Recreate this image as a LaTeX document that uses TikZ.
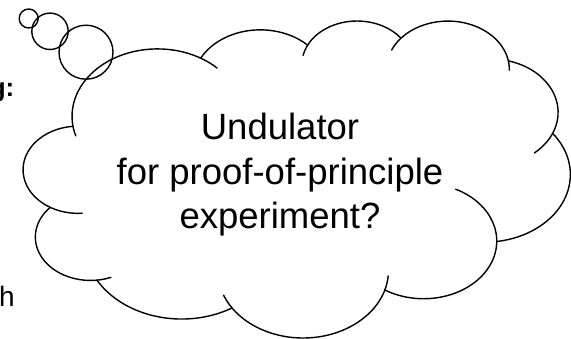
\documentclass[tikz,border=0pt]{standalone}
\usepackage{fontspec}
\setmainfont{Liberation Sans}
\usepackage{tikz}
\begin{document}
\begin{tikzpicture}[line cap=round,line join=round,x=1.0pt,y=1.0pt]
\useasboundingbox (0,0) rectangle (571,339);
\clip (0,0) rectangle (571,339);
% thought bubbles
\draw [line width=1.4pt] (28.7,320.5) circle (9.5);
\draw [line width=1.4pt] (50.0,307.7) circle (18.2);
\draw [line width=1.4pt] (86.0,286.8) circle (27.0);
% cloud bumps, clockwise from upper left
\draw [line width=1.4pt] (157.51,222.68) ++(196.81:85.45 and 67.41) arc [start angle=196.81, end angle=45.74, x radius=85.45, y radius=67.41];
\draw [line width=1.4pt] (260.30,255.85) ++(152.03:67.48 and 53.30) arc [start angle=152.03, end angle=45.46, x radius=67.48, y radius=53.30];
\draw [line width=1.4pt] (357.06,274.38) ++(167.72:55.23 and 43.61) arc [start angle=167.72, end angle=37.32, x radius=55.23, y radius=43.61];
\draw [line width=1.4pt] (447.87,269.54) ++(156.27:61.46 and 48.37) arc [start angle=156.27, end angle=-0.83, x radius=61.46, y radius=48.37];
\draw [line width=1.4pt] (490.63,226.64) ++(74.77:67.48 and 53.35) arc [start angle=74.77, end angle=-49.65, x radius=67.48, y radius=53.35];
\draw [line width=1.4pt] (484.64,164.44) ++(37.52:85.72 and 67.63) arc [start angle=37.52, end angle=-81.86, x radius=85.72, y radius=67.63];
\draw [line width=1.4pt] (423.58,97.95) ++(64.03:73.20 and 57.70) arc [start angle=64.03, end angle=-121.98, x radius=73.20, y radius=57.70];
\draw [line width=1.4pt] (303.05,68.58) ++(-4.74:85.43 and 67.59) arc [start angle=-4.74, end angle=-158.47, x radius=85.43, y radius=67.59];
\draw [line width=1.4pt] (181.69,97.29) ++(-58.98:97.68 and 77.33) arc [start angle=-58.98, end angle=-150.18, x radius=97.68, y radius=77.33];
\draw [line width=1.4pt] (90.51,101.95) ++(-68.23:55.17 and 43.41) arc [start angle=-68.23, end angle=-223.10, x radius=55.17, y radius=43.41];
\draw [line width=1.4pt] (78.02,169.24) ++(-85.54:54.98 and 43.61) arc [start angle=-85.54, end angle=-264.11, x radius=54.98, y radius=43.61];
% texts
\node (thought) at (280,164) [align=center,inner sep=0pt,font=\fontsize{36.5}{44.5}\selectfont] {Undulator\\for proof-of-principle\\experiment?};
\node (leftg) at (14.5,242) [anchor=base east,inner sep=0pt,font=\bfseries\fontsize{26}{30}\selectfont] {g:};
\node (lefth) at (14.8,32) [anchor=base east,inner sep=0pt,font=\fontsize{28}{32}\selectfont] {h};
\end{tikzpicture}
\end{document}
